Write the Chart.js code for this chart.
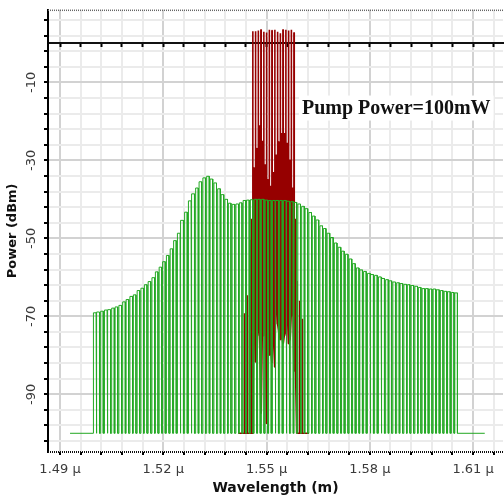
<!DOCTYPE html>
<html>
<head>
<meta charset="utf-8">
<script src="https://cdn.jsdelivr.net/npm/chart.js@4.4.0/dist/chart.umd.min.js"></script>
<style>
  html, body { margin: 0; padding: 0; background: #fff; overflow: hidden; }
</style>
</head>
<body>
<canvas id="osa" width="504" height="499"></canvas>
<script>
// axis ticks (wavelength in microns, power in dBm)
const xTicks = [1.49, 1.496, 1.502, 1.508, 1.514, 1.52, 1.526, 1.532, 1.538, 1.544, 1.55,
  1.556, 1.562, 1.568, 1.574, 1.58, 1.586, 1.592, 1.598, 1.604, 1.61, 1.616];
const xLabelTicks = [1.49, 1.52, 1.55, 1.58, 1.61];
const yTicks = [-102, -98, -94, -90, -86, -82, -78, -74, -70, -66, -62, -58, -54, -50,
  -46, -42, -38, -34, -30, -26, -22, -18, -14, -10, -6, -2, 2, 6];
const yLabelTicks = [-90, -70, -50, -30, -10];

const noiseFloor = -100;

// green comb (probe channels)
const greenEdges = [1.4929, 1.6134];
const greenWl = [
  1.4997, 1.5007, 1.5018, 1.5029, 1.5039, 1.5050, 1.5060, 1.5071, 1.5082, 1.5092,
  1.5103, 1.5113, 1.5124, 1.5135, 1.5145, 1.5156, 1.5167, 1.5177, 1.5188, 1.5198,
  1.5209, 1.5220, 1.5230, 1.5241, 1.5251, 1.5262, 1.5273, 1.5283, 1.5294, 1.5304,
  1.5315, 1.5326, 1.5336, 1.5347, 1.5358, 1.5368, 1.5379, 1.5389, 1.5400, 1.5411,
  1.5421, 1.5432, 1.5442, 1.5453, 1.5464, 1.5474, 1.5485, 1.5496, 1.5506, 1.5517,
  1.5527, 1.5538, 1.5549, 1.5559, 1.5570, 1.5580, 1.5591, 1.5602, 1.5612, 1.5623,
  1.5633, 1.5644, 1.5655, 1.5665, 1.5676, 1.5686, 1.5697, 1.5708, 1.5718, 1.5729,
  1.5740, 1.5750, 1.5761, 1.5771, 1.5782, 1.5793, 1.5803, 1.5814, 1.5825, 1.5835,
  1.5846, 1.5856, 1.5867, 1.5878, 1.5888, 1.5899, 1.5909, 1.5920, 1.5931, 1.5941,
  1.5952, 1.5962, 1.5973, 1.5984, 1.5994, 1.6005, 1.6016, 1.6026, 1.6037, 1.6047
];
const greenPow = [
  -69.1, -68.9, -68.7, -68.4, -68.3, -67.9, -67.6, -67.2, -66.3, -65.7,
  -64.9, -64.5, -63.4, -62.8, -61.9, -61.1, -60.1, -58.6, -57.4, -56.0,
  -54.4, -52.7, -50.6, -48.7, -45.4, -43.3, -40.4, -38.6, -37.1, -35.5,
  -34.5, -34.1, -34.8, -35.8, -37.3, -38.8, -40.0, -41.0, -41.3, -41.2,
  -40.9, -40.3, -40.2, -40.1, -40.0, -40.0, -40.0, -40.2, -40.3, -40.3,
  -40.3, -40.3, -40.3, -40.5, -40.6, -40.8, -41.2, -41.8, -42.4, -43.4,
  -44.3, -45.3, -46.8, -47.5, -48.7, -49.8, -51.2, -52.3, -53.3, -54.1,
  -55.3, -56.5, -57.6, -58.1, -58.5, -59.0, -59.3, -59.5, -59.9, -60.3,
  -60.6, -60.9, -61.2, -61.4, -61.6, -61.8, -61.9, -62.1, -62.3, -62.6,
  -62.9, -62.9, -63.0, -63.0, -63.2, -63.4, -63.6, -63.7, -63.9, -64.0
];

// red trace (pump channels + mixing products), one stroke per sample
const redEdges = [1.5418, 1.5623];
const redWl = [
  1.5436, 1.5444, 1.5452, 1.5456,
  1.5460, 1.5464, 1.5468, 1.5472, 1.5476, 1.5480, 1.5484, 1.5488,
  1.5492, 1.5496, 1.5500, 1.5504, 1.5508, 1.5512, 1.5516, 1.5520,
  1.5524, 1.5528, 1.5532, 1.5536, 1.5540, 1.5544, 1.5548, 1.5552,
  1.5556, 1.5560, 1.5564, 1.5568, 1.5572, 1.5576, 1.5580, 1.5584,
  1.5588, 1.5596, 1.5604
];
const redTop = [
  -69.2, -64.6, -50.5, -45,
  3.1, -32, 3.1, -27, 3.3, -21, 3.5, -25,
  3.0, -31, 2.8, -35, 3.5, -36.5, 3.3, -33,
  3.5, -28.5, 3.0, -25.3, 2.6, -23, 3.5, -23,
  3.5, -25.5, 3.3, -30, 3.5, -37, 2.7, -45,
  -61, -66, -70.6
];
const redLow = [
  -100, -100, -100, -100,
  -100, -62, -81.7, -80, -70, -75, -95, -75,
  -75, -65, -97.5, -78, -80, -79, -82, -70,
  -83, -60, -72, -74, -76, -75, -77, -75,
  -74, -68, -77, -76, -70, -65, -84, -84,
  -100, -100, -100
];

const noteText = "Pump Power=100mW";
const notePos = [1.5603, -18];

function isMajor(v, list) {
  return list.some((m) => Math.abs(m - v) < 1e-6);
}

function combTrace(wl, top, low, edges, left, right) {
  const pts = [{ x: edges[0], y: noiseFloor }];
  for (let i = 0; i < wl.length; i++) {
    const lo = Array.isArray(low) ? low[i] : low;
    pts.push({ x: wl[i] + left, y: lo });
    pts.push({ x: wl[i] + left, y: top[i] });
    pts.push({ x: wl[i] + right, y: top[i] });
    pts.push({ x: wl[i] + right, y: lo });
  }
  pts.push({ x: edges[1], y: noiseFloor });
  return pts;
}

const xMin = 1.4865;
const xMax = 1.6187;
const setXTicks = (s) => { s.ticks = xTicks.map((v) => ({ value: v })); };

// dotted frame lines top and bottom, like the OSA plot window
const framePlugin = {
  id: "frame",
  afterDraw(chart) {
    const { ctx, chartArea } = chart;
    ctx.save();
    ctx.setLineDash([1, 1]);
    ctx.strokeStyle = "#666";
    ctx.lineWidth = 1.5;
    ctx.beginPath();
    ctx.moveTo(chartArea.left, chartArea.top + 0.5);
    ctx.lineTo(chartArea.right + 1, chartArea.top + 0.5);
    ctx.stroke();
    ctx.strokeStyle = "#111";
    ctx.lineWidth = 2;
    ctx.beginPath();
    ctx.moveTo(chartArea.left, chartArea.bottom);
    ctx.lineTo(chartArea.right + 1, chartArea.bottom);
    ctx.stroke();
    ctx.restore();
  },
};

const notePlugin = {
  id: "note",
  beforeDatasetsDraw(chart) {
    const ctx = chart.ctx;
    const x = chart.scales.x.getPixelForValue(notePos[0]);
    const y = chart.scales.y.getPixelForValue(notePos[1]);
    ctx.save();
    ctx.font = 'bold 20px "Liberation Serif"';
    const w = ctx.measureText(noteText).width;
    ctx.fillStyle = "#fff";
    ctx.fillRect(x - 3, y - 18, w + 6, 25);
    ctx.fillStyle = "#111";
    ctx.textBaseline = "alphabetic";
    ctx.fillText(noteText, x, y);
    ctx.restore();
  },
};

const gridColor = (list) => (c) =>
  c.tick && isMajor(c.tick.value, list) ? "#d2d2d2" : "#ebebeb";

new Chart(document.getElementById("osa"), {
  type: "line",
  data: {
    datasets: [
      {
        label: "probe",
        data: combTrace(greenWl, greenPow, noiseFloor, greenEdges, 0, 0.00076),
        borderColor: "#22a822",
        borderWidth: 1,
        pointRadius: 0,
        fill: false,
        order: 0,
        xAxisID: "x",
        yAxisID: "y",
      },
      {
        label: "pump",
        data: combTrace(redWl, redTop, redLow, redEdges, -0.00005, 0.00005),
        borderColor: "#960000",
        borderWidth: 1.6,
        borderJoinStyle: "bevel",
        pointRadius: 0,
        fill: false,
        order: 1,
        xAxisID: "x",
        yAxisID: "y",
      },
    ],
  },
  options: {
    responsive: false,
    animation: false,
    devicePixelRatio: 1,
    layout: { padding: { top: 9, right: 1, left: 0, bottom: 0 } },
    plugins: { legend: { display: false }, tooltip: { enabled: false } },
    scales: {
      x: {
        type: "linear",
        position: "bottom",
        min: xMin,
        max: xMax,
        afterBuildTicks: setXTicks,
        afterFit: (s) => { s.height = 47; },
        ticks: {
          autoSkip: false,
          minRotation: 0,
          maxRotation: 0,
          padding: 7,
          color: "#3a3a3a",
          font: { family: '"DejaVu Sans"', size: 13 },
          callback: (v) => (isMajor(v, xLabelTicks) ? v.toFixed(2) + " μ" : ""),
        },
        grid: {
          color: gridColor(xLabelTicks),
          lineWidth: 2,
          tickLength: 3,
          tickColor: "#000",
          tickWidth: 2,
        },
        border: { display: false },
        title: {
          display: true,
          text: "Wavelength (m)",
          color: "#111",
          font: { family: '"DejaVu Sans"', size: 14, weight: "bold" },
          padding: { top: 0, bottom: 2 },
        },
      },
      xZero: {
        type: "linear",
        axis: "x",
        position: { y: 0 },
        z: 1,
        min: xMin,
        max: xMax,
        afterBuildTicks: setXTicks,
        ticks: { display: false, autoSkip: false },
        grid: {
          drawOnChartArea: false,
          drawTicks: true,
          tickLength: 3,
          tickColor: "#000",
          tickWidth: 2,
        },
        border: { color: "#111", width: 2 },
      },
      y: {
        type: "linear",
        min: -104.8,
        max: 8.6,
        afterBuildTicks: (s) => { s.ticks = yTicks.map((v) => ({ value: v })); },
        afterFit: (s) => { s.width = 48; },
        ticks: {
          autoSkip: false,
          minRotation: 90,
          maxRotation: 90,
          crossAlign: "center",
          padding: 2,
          color: "#3a3a3a",
          font: { family: '"DejaVu Sans"', size: 13 },
          callback: (v) => (isMajor(v, yLabelTicks) ? String(v) : ""),
        },
        grid: {
          color: gridColor(yLabelTicks),
          lineWidth: 2,
          tickLength: 4,
          tickColor: "#000",
          tickWidth: 2,
        },
        border: { color: "#000", width: 2 },
        title: {
          display: true,
          text: "Power (dBm)",
          color: "#111",
          font: { family: '"DejaVu Sans"', size: 13, weight: "bold" },
          padding: { top: 5, bottom: 0 },
        },
      },
    },
  },
  plugins: [notePlugin, framePlugin],
});
</script>
</body>
</html>
